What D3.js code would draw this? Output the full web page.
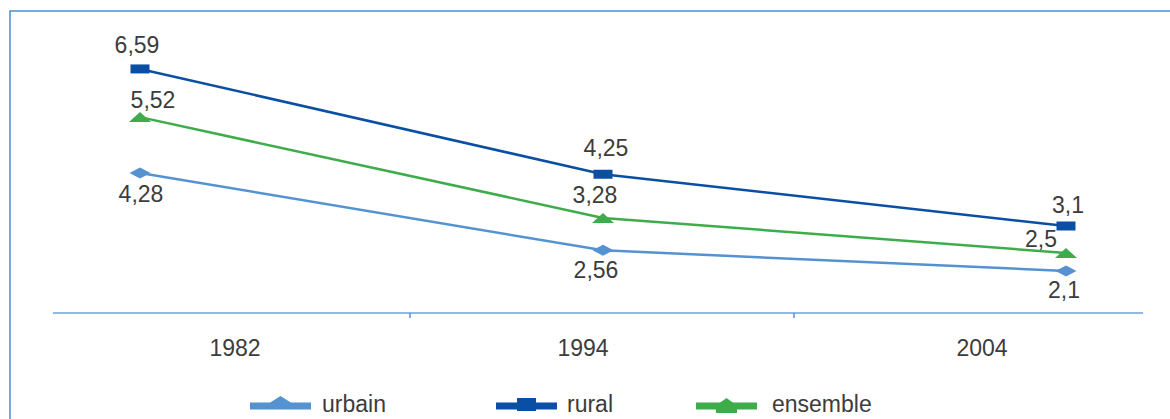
<!DOCTYPE html>
<html>
<head>
<meta charset="utf-8">
<script src="https://cdn.jsdelivr.net/npm/d3@7"></script>
<style>
  html, body { margin: 0; padding: 0; background: #fff; }
  svg { display: block; }
  text { font-family: "Liberation Sans", Arial, sans-serif; fill: #3c3c3c; }
</style>
</head>
<body>
<svg id="chart" width="1170" height="419"></svg>
<script>
// ---- data ----
const years = ["1982", "1994", "2004"];
const urbain = [4.28, 2.56, 2.1];
const rural = [6.59, 4.25, 3.1];
const ensemble = [5.52, 3.28, 2.5];
const seriesNames = ["urbain", "rural", "ensemble"];
const valueLabels = {
  urbain: ["4,28", "2,56", "2,1"],
  rural: ["6,59", "4,25", "3,1"],
  ensemble: ["5,52", "3,28", "2,5"]
};

// ---- layout / style ----
const colors = { urbain: "#5592d2", rural: "#0a4fa3", ensemble: "#3eac4b" };
const labelOffsets = {
  rural: [[-3, -16], [3, -18], [2, -13]],
  ensemble: [[13, -9], [-8, -15], [-25, -6]],
  urbain: [[1, 29], [-7, 28], [-2, 27]]
};
const axisY = 313;
const axisLabelX = [235, 583, 982];
const axisTickX = [410, 794];

const svg = d3.select("#chart");

// frame
svg.append("rect")
  .attr("x", 10).attr("y", 11)
  .attr("width", 1200).attr("height", 450)
  .attr("fill", "none").attr("stroke", "#2f80cc").attr("stroke-width", 1.3);

const x = d3.scalePoint().domain(years).range([140, 1066]);
const y = d3.scaleLinear().domain([0, 7]).range([365.5, 50.5]);
const labelScale = d3.scaleOrdinal().domain(years).range(axisLabelX);

// x axis line
svg.append("line")
  .attr("x1", 53).attr("x2", 1143)
  .attr("y1", axisY).attr("y2", axisY)
  .attr("stroke", "#6aa3d8").attr("stroke-width", 1.5);
svg.selectAll(".tick").data(axisTickX).join("line")
  .attr("x1", d => d).attr("x2", d => d)
  .attr("y1", axisY).attr("y2", axisY + 5)
  .attr("stroke", "#2f7cc9").attr("stroke-width", 1.2);
svg.selectAll(".xlab").data(years).join("text")
  .attr("x", d => labelScale(d)).attr("y", 356)
  .attr("text-anchor", "middle")
  .attr("font-size", 23)
  .text(d => d);

const seriesData = { urbain, rural, ensemble };

const line = d3.line().x((d, i) => x(years[i])).y(d => y(d));

["urbain", "ensemble", "rural"].forEach(name => {
  const vals = seriesData[name];
  svg.append("path")
    .datum(vals)
    .attr("d", line)
    .attr("fill", "none")
    .attr("stroke", colors[name])
    .attr("stroke-width", 2.5);
});

function marker(g, name, cx, cy) {
  if (name === "rural") {
    g.append("rect").attr("x", cx - 9.5).attr("y", cy - 4.5)
      .attr("width", 19).attr("height", 9).attr("fill", colors[name]);
  } else if (name === "urbain") {
    g.append("path")
      .attr("d", `M${cx - 10.5},${cy} L${cx},${cy - 5.5} L${cx + 10.5},${cy} L${cx},${cy + 5.5} Z`)
      .attr("fill", colors[name]);
  } else {
    g.append("path")
      .attr("d", `M${cx - 11},${cy + 5} L${cx},${cy - 5} L${cx + 11},${cy + 5} Z`)
      .attr("fill", colors[name]);
  }
}

["urbain", "ensemble", "rural"].forEach(name => {
  const vals = seriesData[name];
  const g = svg.append("g");
  vals.forEach((v, i) => marker(g, name, x(years[i]), y(v)));
});

// value labels
seriesNames.forEach(name => {
  const vals = seriesData[name];
  svg.selectAll(".vl-" + name).data(vals).join("text")
    .attr("x", (d, i) => x(years[i]) + labelOffsets[name][i][0])
    .attr("y", (d, i) => y(d) + labelOffsets[name][i][1])
    .attr("text-anchor", "middle")
    .attr("font-size", 23)
    .text((d, i) => valueLabels[name][i]);
});

// legend
const legendX = { urbain: 250, rural: 496, ensemble: 696 };
const legendTextX = { urbain: 322, rural: 567, ensemble: 772 };
const ly = 406;
seriesNames.forEach(name => {
  const lx = legendX[name];
  const g = svg.append("g");
  g.append("rect").attr("x", lx).attr("y", ly - 3.5)
    .attr("width", 61).attr("height", 7).attr("fill", colors[name]);
  const cx = lx + 30.5;
  if (name === "rural") {
    g.append("rect").attr("x", cx - 9.5).attr("y", ly - 8)
      .attr("width", 19).attr("height", 13).attr("fill", colors[name]);
  } else if (name === "urbain") {
    g.append("path")
      .attr("d", `M${cx - 11},${ly - 3} L${cx},${ly - 10} L${cx + 11},${ly - 3} Z`)
      .attr("fill", colors[name]);
  } else {
    g.append("path")
      .attr("d", `M${cx - 7},${ly - 3} L${cx},${ly - 8} L${cx + 7},${ly - 3} Z`)
      .attr("fill", colors[name]);
    g.append("rect").attr("x", cx - 10.5).attr("y", ly)
      .attr("width", 21).attr("height", 7).attr("fill", colors[name]);
  }
  g.append("text")
    .attr("x", legendTextX[name]).attr("y", ly + 6)
    .attr("font-size", 23)
    .text(name);
});
</script>
</body>
</html>
